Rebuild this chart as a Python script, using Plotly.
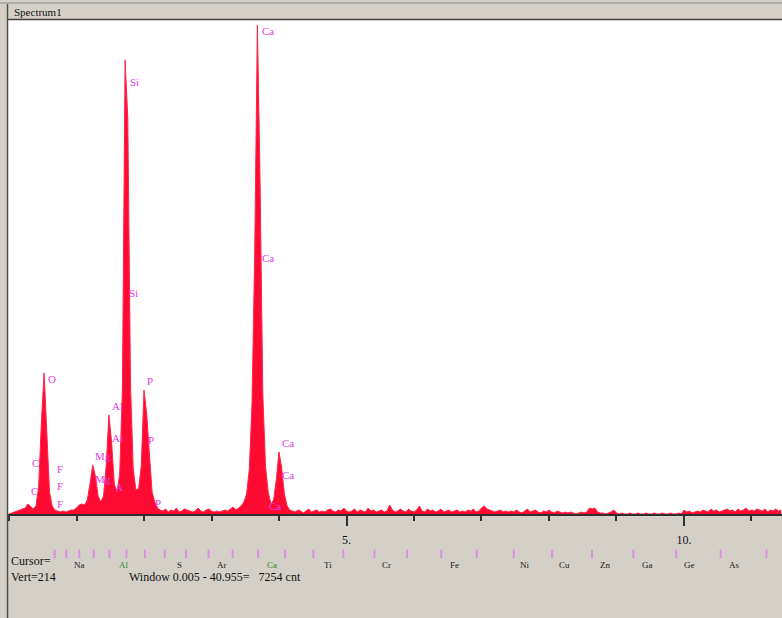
import plotly.graph_objects as go

# ---------------- data ----------------
CHANNEL_KEV = 0.04  # channel width of the spectrum (keV)

# counts per channel, starting at 0.00 keV
COUNTS = [
    0, 1, 2, 3, 4, 5, 6, 10, 7, 5,            # 0.00-0.36
    8, 28, 92, 141, 82, 22, 8, 4, 3, 2,       # 0.40-0.76
    3, 2, 3, 4, 4, 6, 9, 10, 9, 14,           # 0.80-1.16
    30, 49, 38, 18, 12, 18, 48, 99, 72, 30,   # 1.20-1.56
    22, 40, 125, 454, 395, 130, 45, 24, 25, 48,  # 1.60-1.96
    124, 100, 60, 22, 12, 6, 4, 3, 5, 2,      # 2.00-2.36
    4, 3, 6, 2, 3, 5, 4, 3, 2, 3,             # 2.40-2.76
    6, 3, 2, 4, 5, 3, 2, 3, 2, 3,             # 2.80-3.16
    4, 3, 5, 7, 4, 6, 8, 12, 20, 45,          # 3.20-3.56
    110, 260, 489, 330, 120, 48, 22, 10, 14, 34,  # 3.60-3.96
    62, 46, 20, 8, 4, 3,                      # 4.00-4.20
    2, 4, 3, 1, 3, 5, 2, 3, 4, 2,
    3, 2, 4, 5, 3, 2, 4, 3, 6, 3,
    2, 3, 5, 2, 4, 3, 2, 6, 3, 4,
    2, 3, 4, 2, 3, 9, 4, 2, 3, 5,
    3, 2, 5, 3, 2, 4, 8, 3, 2, 5,
    3, 4, 2, 3, 5, 2, 3, 4, 2, 3,
    4, 2, 3, 2, 4, 3, 5, 2, 3, 6,
    8, 5, 4, 3, 2, 3, 4, 2, 3, 2,
    3, 2, 4, 2, 1, 3, 5, 2, 3, 4,
    2, 1, 3, 2, 4, 2, 1, 3, 2, 1,
    2, 1, 2, 1, 0, 1, 2, 1, 2, 6,
    5, 6, 2, 1, 1, 0, 1, 2, 4, 1,
    0, 1, 0, 0, 1, 0, 0, 1, 0, 0,
    1, 0, 0, 1, 0, 0, 1, 0, 0, 1,
    0, 0, 1, 0, 4, 2, 3, 1, 2, 3,
    2, 4, 3, 2, 5, 3, 4, 2, 3, 4,
    5, 3, 4, 2, 5, 3, 4, 6, 3, 4,
    3, 5, 4, 3, 5, 2, 4, 3, 5, 3, 4,
]
ENERGY = [i * CHANNEL_KEV for i in range(len(COUNTS))]

# peak identification labels (magenta) inside the spectrum
KLM_TEXT = ["Ca", "Si", "Ca", "Si", "O", "P", "Al", "Al", "P", "Ca", "Ca",
            "Mg", "Mg", "C", "C", "F", "F", "F", "A", "P", "Ca"]
KLM_KEV = [3.72, 1.76, 3.72, 1.75, 0.55, 2.01, 1.50, 1.50, 2.03, 4.01, 4.01,
           1.24, 1.24, 0.31, 0.29, 0.68, 0.68, 0.68, 1.54, 2.13, 3.82]
KLM_CNT = [483, 432, 256, 221, 135, 133, 108, 76, 74, 71, 39,
           58, 35, 51, 23, 45, 28, 10, 27, 11, 8]

# element marker ticks (pink) under the axis, K-alpha energies F .. Se
MARKER_KEV = [0.677, 0.849, 1.041, 1.254, 1.487, 1.740, 2.013, 2.307, 2.622,
              2.957, 3.313, 3.691, 4.090, 4.510, 4.952, 5.414, 5.898, 6.403,
              6.929, 7.477, 8.046, 8.637, 9.250, 9.885, 10.543, 11.222]

# element names shown under the marker ticks
ELEM_TEXT = ["Na", "Al", "S", "Ar", "Ca", "Ti", "Cr", "Fe", "Ni", "Cu",
             "Zn", "Ga", "Ge", "As"]
ELEM_KEV = [0.93, 1.60, 2.46, 3.05, 3.79, 4.64, 5.50, 6.50, 7.54, 8.12,
            8.73, 9.35, 9.97, 10.64]
ELEM_COLOR = ["#202020", "#2e8b2e", "#202020", "#202020", "#2e8b2e", "#202020",
              "#202020", "#202020", "#202020", "#202020", "#202020", "#202020",
              "#202020", "#202020"]

MAJOR_TICKS = [5, 10]
MAJOR_TEXT = ["5.", "10."]

# ---------------- layout helpers ----------------
W, H = 782, 618
GRAY = "#d4d0c8"


def px(x):
    return x / W


def py(y):
    return 1 - y / H


SERIF = "Liberation Serif"

fig = go.Figure()

fig.add_trace(go.Scatter(
    x=ENERGY, y=COUNTS, mode="lines", fill="tozeroy",
    fillcolor="#ff0a32", line=dict(color="#ff2448", width=1),
    hoverinfo="skip", showlegend=False,
))

fig.add_trace(go.Scatter(
    x=MARKER_KEV, y=[9] * len(MARKER_KEV), yaxis="y2", mode="markers",
    marker=dict(symbol="line-ns", size=6, line=dict(color="#dc8ee0", width=2)),
    hoverinfo="skip", showlegend=False,
))

annotations = []
for t, e, c in zip(KLM_TEXT, KLM_KEV, KLM_CNT):
    annotations.append(dict(
        x=e, y=c, xref="x", yref="y", text=t, showarrow=False,
        xanchor="left", yanchor="middle",
        font=dict(family=SERIF, size=11, color="#e23ce6"),
    ))

for t, e, col in zip(ELEM_TEXT, ELEM_KEV, ELEM_COLOR):
    annotations.append(dict(
        x=e, y=py(565), xref="x", yref="paper", text=t, showarrow=False,
        xanchor="left", yanchor="middle",
        font=dict(family=SERIF, size=9, color=col),
    ))

annotations += [
    dict(x=px(12), y=py(12), xref="paper", yref="paper", text="Spectrum1",
         showarrow=False, xanchor="left", yanchor="middle",
         font=dict(family=SERIF, size=11, color="#111111")),
    dict(x=px(9), y=py(561), xref="paper", yref="paper", text="Cursor=",
         showarrow=False, xanchor="left", yanchor="middle",
         font=dict(family=SERIF, size=12, color="#111111")),
    dict(x=px(9), y=py(577), xref="paper", yref="paper", text="Vert=214",
         showarrow=False, xanchor="left", yanchor="middle",
         font=dict(family=SERIF, size=12, color="#111111")),
    dict(x=px(127), y=py(577), xref="paper", yref="paper",
         text="Window 0.005 - 40.955=\u00a0\u00a0\u00a07254 cnt",
         showarrow=False, xanchor="left", yanchor="middle",
         font=dict(family=SERIF, size=12, color="#111111")),
]

shapes = [
    # white spectrum window
    dict(type="rect", xref="paper", yref="paper", layer="below",
         x0=px(8), x1=1, y0=py(514), y1=py(20),
         fillcolor="#ffffff", line=dict(width=0)),
    dict(type="line", xref="paper", yref="paper", x0=0, x1=1,
         y0=py(3), y1=py(3), line=dict(color="#8a8a8a", width=1)),
    dict(type="line", xref="paper", yref="paper", x0=px(8), x1=1,
         y0=py(19.5), y1=py(19.5), line=dict(color="#404040", width=1.5)),
    dict(type="line", xref="paper", yref="paper", x0=px(7.5), x1=px(7.5),
         y0=py(4), y1=0, line=dict(color="#505050", width=1.5)),
]

fig.update_layout(
    width=W, height=H,
    margin=dict(l=0, r=0, t=0, b=0),
    paper_bgcolor=GRAY, plot_bgcolor=GRAY,
    font=dict(family=SERIF, color="#111111"),
    showlegend=False,
    xaxis=dict(
        domain=[px(8), 1], range=[-0.0148, 11.452],
        showgrid=False, zeroline=False,
        showline=True, linecolor="#303030", linewidth=2,
        ticks="outside", tickvals=MAJOR_TICKS, ticktext=MAJOR_TEXT,
        ticklen=10, tickwidth=2, tickcolor="#303030",
        tickfont=dict(family=SERIF, size=12, color="#111111"),
        ticklabelstandoff=4,
        minor=dict(dtick=1, tick0=0, ticks="outside", ticklen=5,
                   tickwidth=1.5, tickcolor="#303030", showgrid=False),
        fixedrange=True,
    ),
    yaxis=dict(
        domain=[py(514), py(20)], range=[0, 494],
        visible=False, showgrid=False, zeroline=False, fixedrange=True,
    ),
    yaxis2=dict(
        domain=[py(585), py(545)], range=[40, 0], anchor="x",
        visible=False, showgrid=False, zeroline=False, fixedrange=True,
    ),
    annotations=annotations,
    shapes=shapes,
)

fig.write_html(
    "out.html",
    config={"displayModeBar": False},
    post_script="document.body.style.margin='0';document.body.style.overflow='hidden';",
)
